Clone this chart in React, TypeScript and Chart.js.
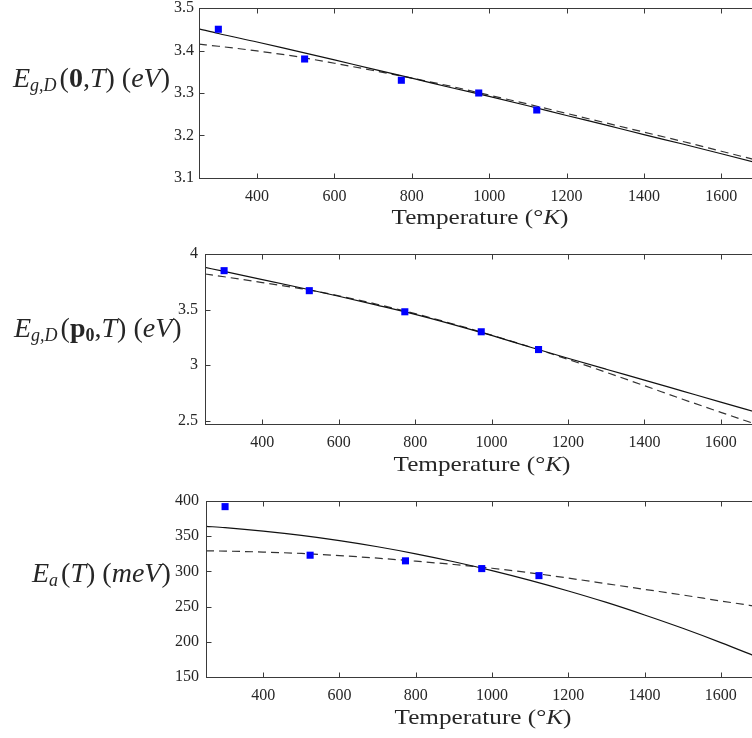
import React, { useEffect, useRef } from 'react';
import { Chart, registerables } from 'chart.js';
Chart.register(...registerables);

// ---------- data ----------
const measuredT = [300, 523, 773, 973, 1123];
const curveT = [250, 300, 400, 500, 600, 700, 800, 900, 1000, 1100, 1200, 1300, 1400, 1500, 1600, 1700];

const gapZeroMeasured = [3.45, 3.38, 3.33, 3.3, 3.26];
const gapZeroSolid = [3.451, 3.44, 3.42, 3.399, 3.378, 3.356, 3.335, 3.313, 3.292, 3.27, 3.247, 3.225, 3.202, 3.18, 3.157, 3.134];
const gapZeroDashed = [3.415, 3.41, 3.399, 3.386, 3.37, 3.353, 3.335, 3.316, 3.295, 3.274, 3.252, 3.23, 3.208, 3.186, 3.163, 3.14];

const gapP0Measured = [3.85, 3.67, 3.48, 3.3, 3.14];
const gapP0Solid = [3.879, 3.843, 3.77, 3.696, 3.62, 3.54, 3.457, 3.365, 3.267, 3.163, 3.062, 2.963, 2.865, 2.766, 2.667, 2.569];
const gapP0Dashed = [3.82, 3.795, 3.743, 3.689, 3.624, 3.548, 3.463, 3.37, 3.27, 3.164, 3.052, 2.935, 2.815, 2.693, 2.575, 2.458];

const eaMeasured = [392, 323, 315, 304, 294];
const eaSolid = [364.0, 362.1, 357.2, 351.1, 343.7, 335.0, 325.0, 313.7, 301.2, 287.3, 272.2, 255.9, 238.1, 219.2, 198.9, 177.4];
const eaDashed = [329.2, 328.8, 327.5, 325.5, 322.5, 318.8, 314.5, 309.8, 304.5, 298.0, 290.5, 282.5, 274.5, 266.5, 258.0, 249.8];

const xTicks = [400, 600, 800, 1000, 1200, 1400, 1600];
const xTickLabels = ['400', '600', '800', '1000', '1200', '1400', '1600'];
const yTicksTop = [3.1, 3.2, 3.3, 3.4, 3.5];
const yTickLabelsTop = ['3.1', '3.2', '3.3', '3.4', '3.5'];
const yTicksMid = [2.5, 3, 3.5, 4];
const yTickLabelsMid = ['2.5', '3', '3.5', '4'];
const yTicksBot = [150, 200, 250, 300, 350, 400];
const yTickLabelsBot = ['150', '200', '250', '300', '350', '400'];

const xLabel = 'Temperature';

// ---------- layout ----------
const CW = 800;
const PADT = 20;
const XH = 40;
const FONT = "'Liberation Serif', 'Times New Roman', serif";

const framePlugin = {
  id: 'frame',
  afterDraw(chart: any) {
    const { ctx, chartArea: a, scales } = chart;
    ctx.save();
    ctx.strokeStyle = '#3a3a3a';
    ctx.lineWidth = 1;
    const L = Math.round(a.left) + 0.5, T = Math.round(a.top) + 0.5;
    const R = Math.round(a.right) + 0.5, B = Math.round(a.bottom) + 0.5;
    ctx.strokeRect(L, T, R - L, B - T);
    ctx.beginPath();
    scales.x.ticks.forEach((t: any) => {
      const px = Math.round(scales.x.getPixelForValue(t.value)) + 0.5;
      ctx.moveTo(px, B); ctx.lineTo(px, B - 5);
      ctx.moveTo(px, T); ctx.lineTo(px, T + 5);
    });
    scales.y.ticks.forEach((t: any) => {
      const py = Math.round(scales.y.getPixelForValue(t.value)) + 0.5;
      ctx.moveTo(L, py); ctx.lineTo(L + 5, py);
      ctx.moveTo(R, py); ctx.lineTo(R - 5, py);
    });
    ctx.stroke();
    ctx.restore();
  },
};

type PanelCfg = {
  left: number; top: number; right: number; bottom: number;
  yMin: number; yMax: number;
  yTicks: number[]; yLabels: string[]; yPad: number;
  measured: number[]; solid: number[]; dashed: number[];
};

function Panel({ cfg }: { cfg: PanelCfg }) {
  const ref = useRef<HTMLCanvasElement | null>(null);
  const h = cfg.bottom - cfg.top + PADT + XH;
  useEffect(() => {
    const chart = new Chart(ref.current as HTMLCanvasElement, {
      type: 'line',
      data: {
        datasets: [
          {
            data: measuredT.map((t, i) => ({ x: t, y: cfg.measured[i] })),
            showLine: false,
            pointStyle: 'rect',
            pointRadius: 5,
            backgroundColor: '#0000ff',
            borderColor: '#0000ff',
            borderWidth: 0,
          },
          {
            data: curveT.map((t, i) => ({ x: t, y: cfg.solid[i] })),
            borderColor: '#111111',
            borderWidth: 1.2,
            pointRadius: 0,
            cubicInterpolationMode: 'monotone',
          },
          {
            data: curveT.map((t, i) => ({ x: t, y: cfg.dashed[i] })),
            borderColor: '#333333',
            borderWidth: 1.2,
            borderDash: [8, 5],
            pointRadius: 0,
            cubicInterpolationMode: 'monotone',
          },
        ],
      } as any,
      options: {
        animation: false,
        responsive: false,
        events: [],
        plugins: { legend: { display: false }, tooltip: { enabled: false } },
        layout: { padding: { top: PADT, left: 0, right: CW - cfg.right, bottom: 0 } },
        scales: {
          x: {
            type: 'linear',
            min: 250,
            max: 1700,
            afterBuildTicks: (s: any) => { s.ticks = xTicks.map((v) => ({ value: v })); },
            afterFit: (s: any) => { s.height = XH; },
            grid: { display: false, drawTicks: false },
            border: { display: false },
            ticks: {
              padding: 9,
              color: '#262626',
              autoSkip: false,
              maxRotation: 0,
              font: { family: FONT, size: 16 },
              callback: (v: any) => xTickLabels[xTicks.indexOf(Number(v))] ?? '',
            },
          },
          y: {
            type: 'linear',
            min: cfg.yMin,
            max: cfg.yMax,
            afterBuildTicks: (s: any) => { s.ticks = cfg.yTicks.map((v) => ({ value: v })); },
            afterFit: (s: any) => { s.width = cfg.left; },
            grid: { display: false, drawTicks: false },
            border: { display: false },
            ticks: {
              padding: cfg.yPad,
              color: '#262626',
              autoSkip: false,
              font: { family: FONT, size: 16 },
              callback: (v: any) => {
                const i = cfg.yTicks.findIndex((t) => Math.abs(t - Number(v)) < 1e-9);
                return i >= 0 ? cfg.yLabels[i] : '';
              },
            },
          },
        },
      } as any,
      plugins: [framePlugin],
    });
    return () => chart.destroy();
  }, []);
  return (
    <canvas
      ref={ref}
      width={CW}
      height={h}
      style={{ position: 'absolute', left: 0, top: cfg.top - PADT, width: CW, height: h }}
    />
  );
}

const panels: PanelCfg[] = [
  { left: 199, top: 8, right: 760, bottom: 178, yMin: 3.1, yMax: 3.5, yTicks: yTicksTop, yLabels: yTickLabelsTop, yPad: 5, measured: gapZeroMeasured, solid: gapZeroSolid, dashed: gapZeroDashed },
  { left: 205, top: 254, right: 759, bottom: 424, yMin: 2.47, yMax: 4, yTicks: yTicksMid, yLabels: yTickLabelsMid, yPad: 7, measured: gapP0Measured, solid: gapP0Solid, dashed: gapP0Dashed },
  { left: 206, top: 501, right: 759, bottom: 677, yMin: 150, yMax: 400, yTicks: yTicksBot, yLabels: yTickLabelsBot, yPad: 7, measured: eaMeasured, solid: eaSolid, dashed: eaDashed },
];

const yl: React.CSSProperties = {
  position: 'absolute',
  fontFamily: FONT,
  fontSize: 28,
  lineHeight: '28px',
  color: '#262626',
  whiteSpace: 'nowrap',
};
const it: React.CSSProperties = { fontStyle: 'italic' };
const sub: React.CSSProperties = { fontStyle: 'italic', fontSize: 18, position: 'relative', top: 4 };

function XTitle({ cx, baseline }: { cx: number; baseline: number }) {
  return (
    <div
      style={{
        position: 'absolute',
        left: cx - 150,
        width: 300,
        top: baseline - 17.6,
        textAlign: 'center',
        fontFamily: FONT,
        fontSize: 21,
        lineHeight: '21px',
        color: '#262626',
        whiteSpace: 'nowrap',
        transform: 'scaleX(1.2)',
      }}
    >
      {xLabel} (°<span style={it}>K</span>)
    </div>
  );
}

export default function App() {
  return (
    <div style={{ position: 'fixed', left: 0, top: 0, width: 752, height: 738, overflow: 'hidden', background: '#ffffff' }}>
      {panels.map((p, i) => (
        <Panel key={i} cfg={p} />
      ))}
      <div style={{ ...yl, left: 13, top: 87 - 23.5 }}>
        <span style={it}>E</span><span style={sub}>g,D</span>
        <span style={{ marginLeft: 3 }}>(</span><b>0</b>,<span style={it}>T</span>) (<span style={it}>eV</span>)
      </div>
      <div style={{ ...yl, left: 14, top: 337 - 23.5 }}>
        <span style={it}>E</span><span style={sub}>g,D</span>
        <span style={{ marginLeft: 3 }}>(</span><b>p</b><b style={{ fontSize: 18, position: 'relative', top: 4 }}>0</b>,<span style={it}>T</span>) (<span style={it}>eV</span>)
      </div>
      <div style={{ ...yl, left: 32, top: 582 - 23.5 }}>
        <span style={it}>E</span><span style={sub}>a</span>
        <span style={{ marginLeft: 3 }}>(</span><span style={it}>T</span>) (<span style={it}>meV</span>)
      </div>
      <XTitle cx={479.5} baseline={225} />
      <XTitle cx={482} baseline={472} />
      <XTitle cx={482.5} baseline={724.5} />
    </div>
  );
}
